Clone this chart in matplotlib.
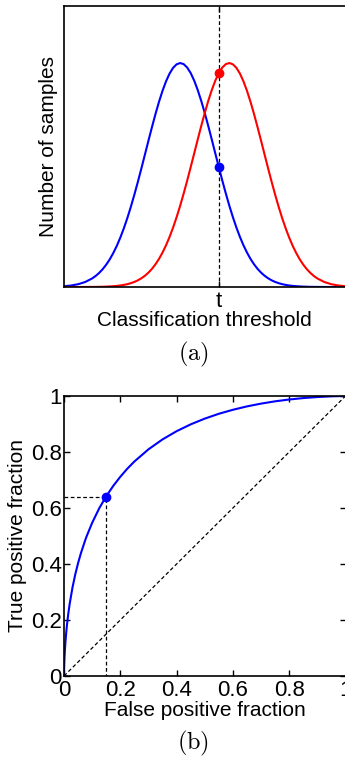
import matplotlib
matplotlib.use("Agg")
import matplotlib.pyplot as plt

plt.rcParams['font.family'] = ['Liberation Sans', 'DejaVu Sans']
plt.rcParams['mathtext.fontset'] = 'cm'

# (a) sample counts along the threshold axis
threshold = [0.0, 0.25, 0.5, 0.75,
             1.0, 1.125, 1.25, 1.375, 1.5, 1.625, 1.75, 1.875,
             2.0, 2.125, 2.25, 2.375, 2.5, 2.625, 2.75, 2.875,
             3.0, 3.125, 3.25, 3.375, 3.5, 3.625, 3.75, 3.875,
             4.0, 4.125, 4.25, 4.375, 4.5, 4.625, 4.75, 4.875,
             5.0, 5.125, 5.25, 5.375, 5.5, 5.625, 5.75, 5.875,
             6.0, 6.125, 6.25, 6.375, 6.5, 6.625, 6.75, 6.875,
             7.0, 7.125, 7.25, 7.375, 7.5, 7.625, 7.75, 7.875,
             8.0, 8.125, 8.25, 8.375, 8.5, 8.625, 8.75, 8.875,
             9.0, 9.25, 9.5, 9.75, 10.0]
negatives = [0.0027, 0.0053, 0.0099, 0.0177,
             0.0304, 0.0393, 0.0502, 0.0635, 0.0795, 0.0984, 0.1207, 0.1463,
             0.1757, 0.2087, 0.2454, 0.2855, 0.3288, 0.3746, 0.4225, 0.4715,
             0.5208, 0.5691, 0.6157, 0.6591, 0.6983, 0.7320, 0.7595, 0.7799,
             0.7925, 0.7970, 0.7932, 0.7812, 0.7615, 0.7345, 0.7011, 0.6624,
             0.6193, 0.5730, 0.5247, 0.4754, 0.4264, 0.3783, 0.3323, 0.2888,
             0.2484, 0.2115, 0.1782, 0.1485, 0.1226, 0.1001, 0.0809, 0.0647,
             0.0512, 0.0401, 0.0311, 0.0238, 0.0181, 0.0136, 0.0101, 0.0074,
             0.0054, 0.0039, 0.0028, 0.0020, 0.0014, 0.0009, 0.0006, 0.0004,
             0.0003, 0.0001, 0.0, 0.0, 0.0]
positives = [0.0, 0.0, 0.0, 0.0001,
             0.0003, 0.0004, 0.0006, 0.0009, 0.0014, 0.0020, 0.0028, 0.0039,
             0.0054, 0.0074, 0.0101, 0.0136, 0.0181, 0.0238, 0.0311, 0.0401,
             0.0512, 0.0647, 0.0809, 0.1001, 0.1226, 0.1485, 0.1782, 0.2115,
             0.2484, 0.2888, 0.3323, 0.3783, 0.4264, 0.4754, 0.5247, 0.5730,
             0.6193, 0.6624, 0.7011, 0.7345, 0.7615, 0.7812, 0.7932, 0.7970,
             0.7925, 0.7799, 0.7595, 0.7320, 0.6983, 0.6591, 0.6157, 0.5691,
             0.5208, 0.4715, 0.4225, 0.3746, 0.3288, 0.2855, 0.2454, 0.2087,
             0.1757, 0.1463, 0.1207, 0.0984, 0.0795, 0.0635, 0.0502, 0.0393,
             0.0304, 0.0177, 0.0099, 0.0053, 0.0027]
t_value = 5.5

# (b) ROC curve
fpr = [0.0, 0.0001, 0.0002, 0.0005, 0.001, 0.002, 0.003, 0.005, 0.0075,
       0.01, 0.015, 0.02, 0.03, 0.04, 0.05, 0.06, 0.075, 0.08, 0.1, 0.125,
       0.15, 0.175, 0.2, 0.225, 0.25, 0.3, 0.35, 0.4, 0.45, 0.5, 0.55, 0.6,
       0.65, 0.7, 0.75, 0.8, 0.85, 0.9, 0.95, 1.0]
tpr = [0.0, 0.0102, 0.016, 0.0294, 0.0455, 0.0697, 0.0888, 0.1198, 0.151,
       0.1772, 0.2206, 0.2566, 0.3153, 0.3628, 0.4032, 0.4384, 0.484, 0.498,
       0.547, 0.5987, 0.642, 0.679, 0.7116, 0.7405, 0.766, 0.8095, 0.845,
       0.8743, 0.8987, 0.9192, 0.9365, 0.9508, 0.9629, 0.9728, 0.981, 0.9875,
       0.9926, 0.9963, 0.9988, 1.0]
op_fpr, op_tpr = 0.15, 0.64
roc_ticks = [0, 0.2, 0.4, 0.6, 0.8, 1]
roc_ticklabels = ['0', '0.2', '0.4', '0.6', '0.8', '1']

fig = plt.figure(figsize=(3.45, 7.58), dpi=100)
W, H = 345.0, 758.0

# ---- panel (a)
i_t = threshold.index(t_value)
ax1 = fig.add_axes([64 / W, (H - 287) / H, (345.5 - 64) / W, 281 / H])
ax1.plot(threshold, negatives, color='#0000ff', lw=1.5)
ax1.plot(threshold, positives, color='#ff0000', lw=1.5)
ax1.axvline(t_value, color='k', ls='--', lw=0.9, dashes=(3, 2))
ax1.plot([t_value], [positives[i_t]], 'o', color='#ff0000', ms=6)
ax1.plot([t_value], [negatives[i_t]], 'o', color='#0000ff', ms=6)
ax1.set_xlim(0, 10)
ax1.set_ylim(0, 1)
ax1.set_xticks([t_value])
ax1.set_xticklabels(['t'])
ax1.set_yticks([])
ax1.tick_params(direction='in', length=4, width=1, labelsize=16, pad=3,
                top=True)
ax1.set_xlabel('Classification threshold', fontsize=15)
ax1.xaxis.set_label_coords(0.5, -0.085)
ax1.set_ylabel('Number of samples', fontsize=15)
ax1.yaxis.set_label_coords(-0.021, 0.5)
for s in ax1.spines.values():
    s.set_linewidth(1.2)
fig.text(193 / W, 1 - 354 / H, r'$\mathrm{(a)}$', fontsize=17.5,
         ha='center', va='center')

# ---- panel (b)
ax2 = fig.add_axes([64 / W, (H - 676) / H, (345.5 - 64) / W, 280 / H])
ax2.plot([0, 1], [0, 1], color='k', ls='--', lw=0.9, dashes=(3, 2))
ax2.plot([0, op_fpr, op_fpr], [op_tpr, op_tpr, 0], color='k', ls='--',
         lw=0.9, dashes=(3, 2))
ax2.plot(fpr, tpr, color='#0000ff', lw=1.5)
ax2.plot([op_fpr], [op_tpr], 'o', color='#0000ff', ms=6)
ax2.set_xlim(0, 1)
ax2.set_ylim(0, 1)
ax2.set_xticks(roc_ticks)
ax2.set_xticklabels(roc_ticklabels)
ax2.set_yticks(roc_ticks)
ax2.set_yticklabels(roc_ticklabels)
ax2.tick_params(direction='in', length=4, width=1, labelsize=16,
                top=True, right=True)
ax2.tick_params(axis='x', pad=3)
ax2.tick_params(axis='y', pad=1.5)
ax2.set_xlabel('False positive fraction', fontsize=15)
ax2.xaxis.set_label_coords(0.5, -0.089)
ax2.set_ylabel('True positive fraction', fontsize=15)
ax2.yaxis.set_label_coords(-0.132, 0.5)
for s in ax2.spines.values():
    s.set_linewidth(1.2)
fig.text(193 / W, 1 - 743 / H, r'$\mathrm{(b)}$', fontsize=17.5,
         ha='center', va='center')

fig.savefig('out.png', dpi=100)
